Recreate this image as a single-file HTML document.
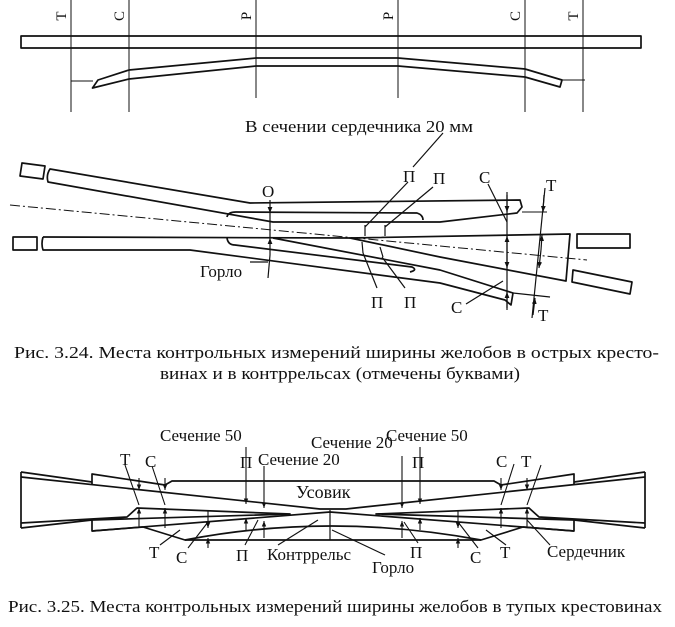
<!DOCTYPE html>
<html><head><meta charset="utf-8"><style>
html,body{margin:0;padding:0;background:#fff}
svg{display:block}
text{font-family:"Liberation Serif",serif;fill:#111}
</style></head><body>
<svg width="675" height="627" viewBox="0 0 675 627" xmlns="http://www.w3.org/2000/svg">
<defs>
<marker id="a" viewBox="0 0 10 10" refX="10" refY="5" markerWidth="5" markerHeight="6" orient="auto-start-reverse"><path d="M0,1 L10,5 L0,9 z" fill="#111"/></marker>
</defs>
<g fill="none" stroke="#111" stroke-width="1.7" stroke-linejoin="round">
<!-- TOP SECTION -->
<rect x="21" y="36" width="620" height="12"/>
<g stroke-width="1">
<line x1="71" y1="0" x2="71" y2="112"/><line x1="129" y1="0" x2="129" y2="112"/>
<line x1="256" y1="0" x2="256" y2="98"/><line x1="398" y1="0" x2="398" y2="98"/>
<line x1="525" y1="0" x2="525" y2="112"/><line x1="583" y1="0" x2="583" y2="112"/>
<line x1="71" y1="81" x2="93" y2="81"/><line x1="562" y1="80" x2="585" y2="80"/>
</g>
<path d="M98,80 L129,70 L256,58 L398,58 L525,69 L562,80 L560,87 L525,77 L398,66 L256,66 L129,79 L92.5,88 Z"/>

<!-- MIDDLE SECTION -->
<path d="M22,163 L45,166 L43,179 L20,176 Z"/>
<rect x="13" y="237" width="24" height="13"/>
<path d="M50,169 L250,203 L520,200 L522,207 L517,213 L440,222 L273,222 L48,182 Q46,175 50,169 Z"/>
<line x1="522" y1="212" x2="547" y2="212" stroke-width="1"/>
<path d="M227,217 Q228,212 236,212 L417,213 Q423,215 423,220"/>
<path d="M43,237 L350,238"/>
<path d="M43,237 Q41,244 43,250 L190,250 L440,283 L505,300 L511,305 L513,293 L440,270 L273,238"/>
<path d="M227,238 Q228,245 235,245 L412,267 Q418,270 410,272"/>
<path d="M350,238 L570,234 L566,281 L440,257 Z"/>
<rect x="577" y="234" width="53" height="14"/>
<path d="M573,270 L632,282 L630,294 L572,282 Z"/>
<g stroke-width="1.2">
<line x1="365" y1="225" x2="365" y2="236"/><line x1="385" y1="225" x2="385" y2="236"/>
<line x1="362" y1="242" x2="363" y2="253"/><line x1="380" y1="247" x2="383" y2="257"/>
<line x1="365" y1="227" x2="408" y2="182"/><line x1="385" y1="227" x2="433" y2="187"/>
<line x1="363" y1="253" x2="377" y2="288"/><line x1="382" y1="257" x2="405" y2="288"/>
<line x1="443" y1="133" x2="413" y2="167"/>
<line x1="270" y1="200" x2="270" y2="213" marker-end="url(#a)"/>
<line x1="270" y1="255" x2="270" y2="238" marker-end="url(#a)"/>
<line x1="270" y1="213" x2="270" y2="238"/>
<line x1="270" y1="255" x2="268" y2="278"/>
<line x1="250" y1="262" x2="268" y2="262"/>
<line x1="507" y1="192" x2="507" y2="310"/>
<line x1="507" y1="195" x2="507" y2="212" marker-end="url(#a)"/>
<line x1="507" y1="252" x2="507" y2="236" marker-end="url(#a)"/>
<line x1="507" y1="252" x2="507" y2="268" marker-end="url(#a)"/>
<line x1="507" y1="308" x2="507" y2="292" marker-end="url(#a)"/>
<line x1="545" y1="188" x2="532" y2="318"/>
<line x1="544" y1="195" x2="543" y2="212" marker-end="url(#a)"/>
<line x1="541" y1="250" x2="542" y2="235" marker-end="url(#a)"/>
<line x1="541" y1="250" x2="539" y2="268" marker-end="url(#a)"/>
<line x1="533" y1="315" x2="535" y2="298" marker-end="url(#a)"/>
<line x1="488" y1="184" x2="507" y2="222"/>
<line x1="466" y1="304" x2="503" y2="281"/>
<line x1="513" y1="293" x2="550" y2="297"/>
</g>
<path d="M10,205 L587,260" stroke-width="1" stroke-dasharray="10,3,2,3"/>

<!-- BOTTOM SECTION -->
<line x1="21" y1="472" x2="21" y2="528"/><line x1="645" y1="472" x2="645" y2="528"/>
<path d="M21,472 L92,482 M645,472 L574,482"/>
<path d="M92,484 L92,474 L165,485 L172,481 L494,481 L501,485 L574,474 L574,484"/>
<path d="M21,477 L320,509 L346,509 L645,477"/>
<path d="M21,528 L92,520 L92,531 L143,527 M645,528 L574,520 L574,531 L523,527"/>
<path d="M21,523 L127,517 L137,508 L290,514 L92,520"/>
<path d="M645,523 L539,517 L529,508 L376,514 L574,520"/>
<path d="M92,531 L330,512 L574,531"/>
<path d="M143,527 L185,540 L481,540 L523,527"/>
<path d="M185,540 Q330,512 481,540"/>
<line x1="330" y1="510" x2="330" y2="540" stroke-width="1.2"/>
<g stroke-width="1.1">
<line x1="139" y1="478" x2="139" y2="490" marker-end="url(#a)"/><line x1="139" y1="528" x2="139" y2="508" marker-end="url(#a)"/>
<line x1="165" y1="478" x2="165" y2="490" marker-end="url(#a)"/><line x1="165" y1="528" x2="165" y2="508" marker-end="url(#a)"/>
<line x1="246" y1="447" x2="246" y2="504" marker-end="url(#a)"/><line x1="246" y1="530" x2="246" y2="518" marker-end="url(#a)"/>
<line x1="264" y1="466" x2="264" y2="508" marker-end="url(#a)"/><line x1="264" y1="538" x2="264" y2="521" marker-end="url(#a)"/>
<line x1="527" y1="478" x2="527" y2="490" marker-end="url(#a)"/><line x1="527" y1="528" x2="527" y2="508" marker-end="url(#a)"/>
<line x1="501" y1="478" x2="501" y2="490" marker-end="url(#a)"/><line x1="501" y1="528" x2="501" y2="508" marker-end="url(#a)"/>
<line x1="420" y1="447" x2="420" y2="504" marker-end="url(#a)"/><line x1="420" y1="530" x2="420" y2="518" marker-end="url(#a)"/>
<line x1="402" y1="456" x2="402" y2="508" marker-end="url(#a)"/><line x1="402" y1="538" x2="402" y2="521" marker-end="url(#a)"/>
<line x1="208" y1="510" x2="208" y2="528" marker-end="url(#a)"/><line x1="208" y1="548" x2="208" y2="538" marker-end="url(#a)"/>
<line x1="458" y1="510" x2="458" y2="528" marker-end="url(#a)"/><line x1="458" y1="548" x2="458" y2="538" marker-end="url(#a)"/>
<line x1="125" y1="465" x2="139" y2="505"/><line x1="152" y1="466" x2="165" y2="505"/>
<line x1="160" y1="545" x2="180" y2="530"/><line x1="188" y1="548" x2="208" y2="522"/>
<line x1="245" y1="545" x2="258" y2="520"/><line x1="278" y1="545" x2="318" y2="520"/>
<line x1="385" y1="555" x2="332" y2="530"/><line x1="418" y1="543" x2="404" y2="522"/>
<line x1="478" y1="548" x2="458" y2="522"/><line x1="506" y1="545" x2="486" y2="530"/>
<line x1="550" y1="545" x2="527" y2="520"/>
<line x1="514" y1="464" x2="501" y2="505"/><line x1="541" y1="465" x2="527" y2="505"/>
</g>
</g>

<!-- TEXT -->
<g font-size="15">
<text transform="translate(66,16) rotate(-90)" text-anchor="middle">Т</text>
<text transform="translate(124,16) rotate(-90)" text-anchor="middle">С</text>
<text transform="translate(251,16) rotate(-90)" text-anchor="middle">Р</text>
<text transform="translate(393,16) rotate(-90)" text-anchor="middle">Р</text>
<text transform="translate(520,16) rotate(-90)" text-anchor="middle">С</text>
<text transform="translate(578,16) rotate(-90)" text-anchor="middle">Т</text>
</g>
<g font-size="17">
<text x="245" y="132" textLength="228" lengthAdjust="spacingAndGlyphs">В сечении сердечника 20 мм</text>
<text x="262" y="197">О</text>
<text x="403" y="182">П</text>
<text x="433" y="184">П</text>
<text x="479" y="183">С</text>
<text x="546" y="191">Т</text>
<text x="200" y="277">Горло</text>
<text x="371" y="308">П</text>
<text x="404" y="308">П</text>
<text x="451" y="313">С</text>
<text x="538" y="321">Т</text>
<text x="14" y="358" textLength="645" lengthAdjust="spacingAndGlyphs">Рис. 3.24. Места контрольных измерений ширины желобов в острых кресто-</text>
<text x="160" y="379" textLength="360" lengthAdjust="spacingAndGlyphs">винах и в контррельсах (отмечены буквами)</text>

<text x="160" y="441">Сечение 50</text>
<text x="120" y="465">Т</text>
<text x="145" y="467">С</text>
<text x="240" y="468">П</text>
<text x="258" y="465">Сечение 20</text>
<text x="311" y="448">Сечение 20</text>
<text x="386" y="441">Сечение 50</text>
<text x="412" y="468">П</text>
<text x="496" y="467">С</text>
<text x="521" y="467">Т</text>
<text x="296" y="498" font-size="18">Усовик</text>
<text x="149" y="558">Т</text>
<text x="176" y="563">С</text>
<text x="236" y="561">П</text>
<text x="267" y="560">Контррельс</text>
<text x="372" y="573">Горло</text>
<text x="410" y="558">П</text>
<text x="470" y="563">С</text>
<text x="500" y="558">Т</text>
<text x="547" y="557">Сердечник</text>
<text x="8" y="612" textLength="654" lengthAdjust="spacingAndGlyphs">Рис. 3.25. Места контрольных измерений ширины желобов в тупых крестовинах</text>
</g>
</svg>
</body></html>
